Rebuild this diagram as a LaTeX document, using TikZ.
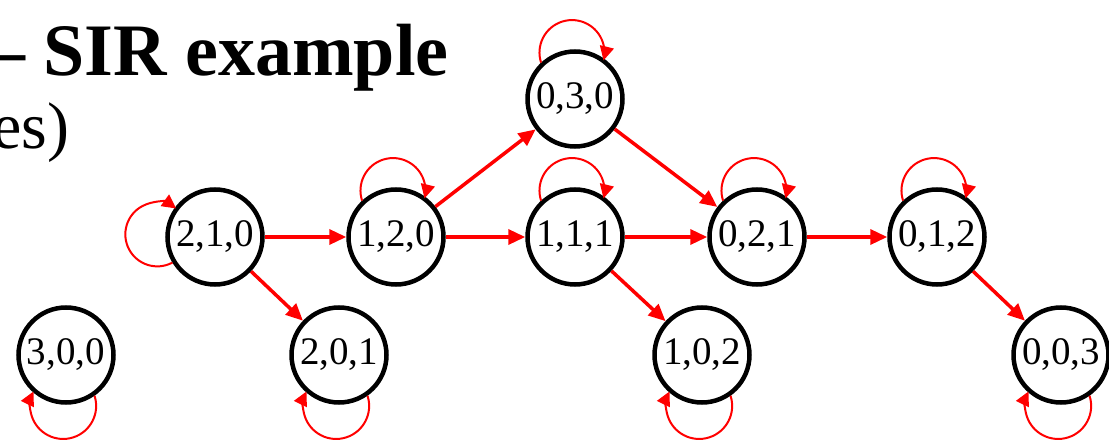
\documentclass[tikz,border=0pt]{standalone}
\usepackage{fontspec}
\setmainfont{Liberation Serif}
\usetikzlibrary{arrows.meta}

\begin{document}
\begin{tikzpicture}[x=1pt, y=1pt,
    state/.style={draw, circle, line width=4.5pt, minimum size=95pt, inner sep=0pt,
        font=\fontsize{39}{39}\selectfont},
    move/.style={red, line width=3.5pt, -{Triangle[length=17pt,width=15pt]}},
    stay/.style={red, line width=2pt, -{Triangle[length=14pt,width=14pt]}}]
    \useasboundingbox (0,0) rectangle (1109,445);
    % heading
    \node[anchor=base east, font=\fontsize{74}{74}\selectfont\bfseries] (title) at (452,369) {-- SIR example};
    \node[anchor=base east, font=\fontsize{66}{66}\selectfont] (sub) at (73,296) {es)};
    % states (S,I,R)
    \node[state] (n300) at (66,90) {3,0,0};
    \node[state] (n210) at (215,208) {2,1,0};
    \node[state] (n201) at (339,90) {2,0,1};
    \node[state] (n120) at (396,208) {1,2,0};
    \node[state] (n030) at (575,346) {0,3,0};
    \node[state] (n111) at (575,208) {1,1,1};
    \node[state] (n102) at (702,90) {1,0,2};
    \node[state] (n021) at (757,208) {0,2,1};
    \node[state] (n012) at (937,208) {0,1,2};
    \node[state] (n003) at (1061,90) {0,0,3};
    % transitions
    \foreach \a/\b in {n210/n120, n210/n201, n120/n030, n120/n111, n030/n021,
                       n111/n021, n111/n102, n021/n012, n012/n003}
        \draw[move] (\a) -- (\b);
    % self loops
    \foreach \s in {n120, n030, n111, n021, n012}
        \draw[stay] (\s.133) arc[start angle=198, end angle=-14, radius=32.5];
    \foreach \s in {n300, n201, n102, n003}
        \draw[stay] (\s.-55) arc[start angle=18, end angle=-206, radius=33];
    \draw[stay] (n210.211) arc[start angle=-62, end angle=-306, radius=32];
\end{tikzpicture}
\end{document}
